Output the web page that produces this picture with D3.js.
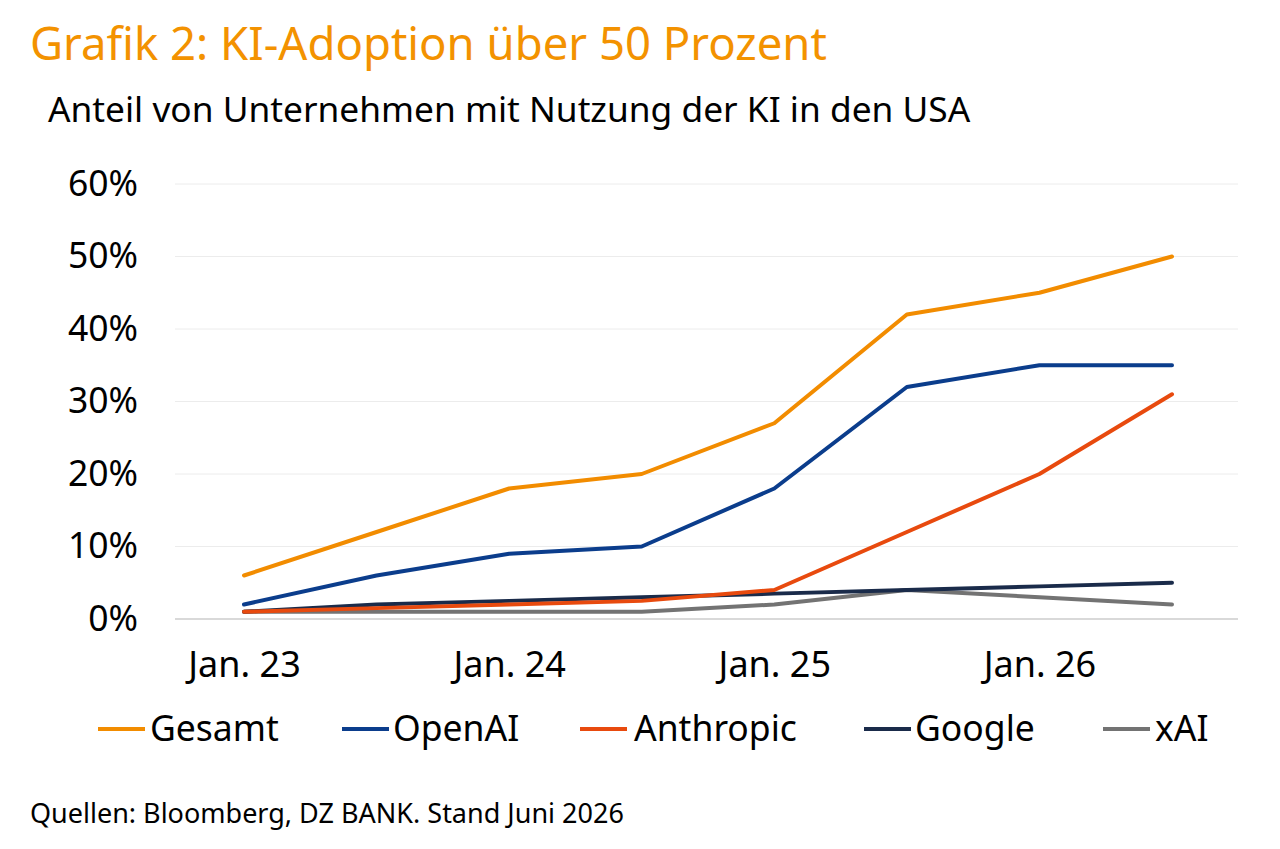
<!DOCTYPE html>
<html><head><meta charset="utf-8">
<script src="https://cdn.jsdelivr.net/npm/d3@7"></script>
<style>
html,body{margin:0;padding:0;background:#fff;}
text{font-family:"Noto Sans",sans-serif;}
</style></head>
<body><svg id="c" width="1280" height="849"></svg>
<script>
const periods = ["Jan. 23","Jul. 23","Jan. 24","Jul. 24","Jan. 25","Jul. 25","Jan. 26","Jul. 26"];
const tickLabels = ["Jan. 23","Jan. 24","Jan. 25","Jan. 26"];
const yTicks = [0,10,20,30,40,50,60];
const gesamt    = [6,12,18,20,27,42,45,50];
const openai    = [2,6,9,10,18,32,35,35];
const anthropic = [1,1.5,2,2.5,4,12,20,31];
const google    = [1,2,2.5,3,3.5,4,4.5,5];
const xai       = [1,1,1,1,2,4,3,2];
const seriesNames = ["Gesamt","OpenAI","Anthropic","Google","xAI"];
const seriesData = [gesamt, openai, anthropic, google, xai];
const colors = ["#F28C00","#0B3D8C","#E84A0E","#1A2B4A","#737373"];

const svg = d3.select("#c");
const x = d3.scalePoint().domain(periods).range([244,1172]);
const y = d3.scaleLinear().domain([0,60]).range([619,184]);

svg.append("text").attr("x",30).attr("y",60).attr("fill","#F39200")
  .attr("font-size",45.5).text("Grafik 2: KI-Adoption über 50 Prozent");
svg.append("text").attr("x",48).attr("y",122).attr("fill","#000")
  .attr("font-size",35.3).text("Anteil von Unternehmen mit Nutzung der KI in den USA");

// grid
svg.append("g").selectAll("line").data(yTicks).join("line")
  .attr("x1",175).attr("x2",1238)
  .attr("y1",d=>y(d)).attr("y2",d=>y(d))
  .attr("stroke",d=>d===0?"#d9d9d9":"#ececec").attr("stroke-width",d=>d===0?2:1);

// y labels
const yAxis = d3.axisLeft(y).tickValues(yTicks).tickFormat(d=>d+"%").tickSize(0).tickPadding(0);
const gy = svg.append("g").attr("transform","translate(138,0)").call(yAxis);
gy.select(".domain").remove();
gy.selectAll("text").attr("font-size",35.5).attr("fill","#000").attr("font-family","'Noto Sans', sans-serif").attr("dy","0.32em");

// x labels
const xAxis = d3.axisBottom(x).tickValues(tickLabels).tickSize(0).tickPadding(0);
const gx = svg.append("g").attr("transform","translate(0,677)").call(xAxis);
gx.select(".domain").remove();
gx.selectAll("text").attr("font-size",36).attr("fill","#000").attr("font-family","'Noto Sans', sans-serif").attr("y",0).attr("dy","0");

const line = d3.line().x((d,i)=>x(periods[i])).y(d=>y(d));
const order = [4,3,2,1,0];
order.forEach(i=>{
  svg.append("path").datum(seriesData[i]).attr("d",line)
    .attr("fill","none").attr("stroke",colors[i]).attr("stroke-width",4)
    .attr("stroke-linejoin","round").attr("stroke-linecap","round");
});

// legend
const legX = [98,342,580,864,1103];
const legT = [150,393,634,915,1155];
seriesNames.forEach((n,i)=>{
  svg.append("line").attr("x1",legX[i]).attr("x2",legX[i]+47).attr("y1",729).attr("y2",729)
    .attr("stroke",colors[i]).attr("stroke-width",4);
  svg.append("text").attr("x",legT[i]).attr("y",741).attr("font-size",35.5).attr("fill","#000").text(n);
});

svg.append("text").attr("x",30).attr("y",823).attr("font-size",27).attr("fill","#000")
  .text("Quellen: Bloomberg, DZ BANK. Stand Juni 2026");
</script></body></html>
